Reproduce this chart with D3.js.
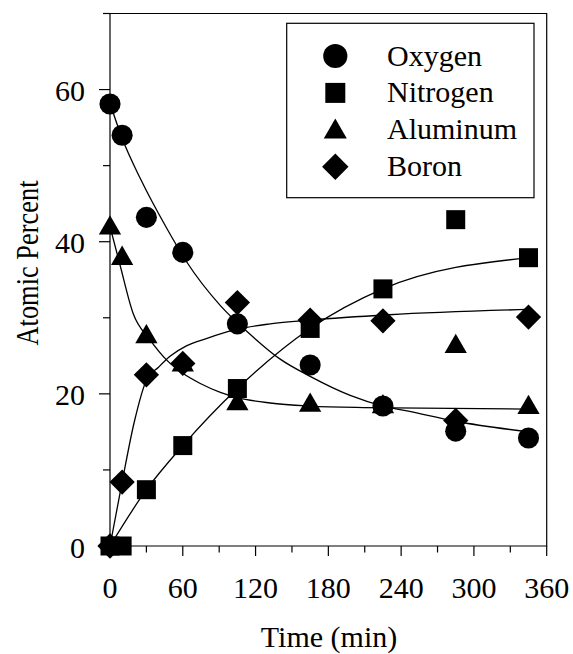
<!DOCTYPE html>
<html>
<head>
<meta charset="utf-8">
<script src="https://cdn.jsdelivr.net/npm/d3@7"></script>
<style>
	body { margin: 0; background: #fff; }
</style>
</head>
<body>
<svg id="chart" width="573" height="654"></svg>
<script>
	// measured points
	const times = [ 0, 10, 30, 60, 105, 165, 225, 285, 345 ];
	const oxygen = [ 58.1, 54.0, 43.2, 38.6, 29.2, 23.8, 18.4, 15.1, 14.2 ];
	const nitrogen = [ 0, 0, 7.4, 13.2, 20.7, 28.6, 33.8, 42.9, 37.9 ];
	const aluminum = [ 41.8, 37.8, 27.5, 23.8, 18.7, 18.5, 18.3, 26.2, 18.2 ];
	const boron = [ 0, 8.4, 22.5, 24.0, 32.0, 29.7, 29.6, 16.5, 30.1 ];

	// fitted curves
	const oxygenFitT = [ 0, 10, 25, 47, 63, 91, 115, 140, 165, 198, 225, 247, 285, 345 ];
	const oxygenFitV = [ 58.2, 53.6, 48.3, 41.7, 37.4, 31.6, 27.9, 24.6, 22.3, 19.8, 18.4, 17.7, 16.4, 15.0 ];
	const nitrogenFitT = [ 0, 30, 60, 105, 165, 225, 345 ];
	const nitrogenFitV = [ 0, 7.4, 13.2, 20.7, 28.6, 33.8, 37.9 ];
	const aluminumFitT = [ 0, 8, 19, 33, 47, 60, 74, 91, 105, 132, 165, 209, 345 ];
	const aluminumFitV = [ 42.0, 37.1, 30.6, 27.1, 24.4, 22.7, 21.4, 20.2, 19.5, 18.8, 18.4, 18.2, 18.0 ];
	const boronFitT = [ 0, 10, 20, 30, 40, 50, 63, 80, 105, 132, 165, 230, 345 ];
	const boronFitV = [ 0, 8.4, 16.3, 21.8, 23.5, 25.0, 26.3, 27.3, 28.5, 29.2, 29.7, 30.4, 31.1 ];

	const seriesNames = [ 'Oxygen', 'Nitrogen', 'Aluminum', 'Boron' ];
	const xTicks = [ 0, 30, 60, 90, 120, 150, 180, 210, 240, 270, 300, 330, 360 ];
	const yTicks = [ 0, 10, 20, 30, 40, 50, 60, 70 ];

	const FONT = '"Liberation Serif", "DejaVu Serif", serif';

	let svg = d3.select( '#chart' ),
		plotLeft = 110, plotRight = 546.7, plotTop = 13.5, plotBottom = 546;

	let x = d3.scaleLinear().domain( [ 0, 360 ] ).range( [ plotLeft, plotRight ] ),
		y = d3.scaleLinear().domain( [ 0, 70 ] ).range( [ plotBottom, plotTop ] );

	// shapes
	let shapes = {
		Oxygen: d3.symbol().type( d3.symbolCircle ).size( 350 ),
		Nitrogen: d3.symbol().type( d3.symbolSquare ).size( 361 ),
		Aluminum: d3.symbol().type( d3.symbolTriangle ).size( 215 ),
		Boron: d3.symbol().type( d3.symbolSquare ).size( 320 )
	};
	let legendShapes = {
		Oxygen: d3.symbol().type( d3.symbolCircle ).size( 460 ),
		Nitrogen: d3.symbol().type( d3.symbolSquare ).size( 400 ),
		Aluminum: d3.symbol().type( d3.symbolTriangle ).size( 230 ),
		Boron: d3.symbol().type( d3.symbolSquare ).size( 350 )
	};
	let rot = name => name === 'Boron' ? ' rotate(45)' : '';

	// frame
	svg.append( 'path' )
		.attr( 'd', 'M' + x( 0 ) + ',' + y( 0 ) + 'V' + y( 70 ) + 'H' + x( 360 ) + 'V' + y( 0 ) + 'Z' )
		.style( 'fill', 'none' ).style( 'stroke', '#000' ).style( 'stroke-width', 1.2 );

	// x ticks
	svg.selectAll( '.xt' ).data( xTicks ).enter().append( 'line' )
		.attr( 'x1', d => x( d ) ).attr( 'x2', d => x( d ) )
		.attr( 'y1', plotBottom ).attr( 'y2', d => plotBottom + ( d % 60 === 0 ? 10 : 6.5 ) )
		.style( 'stroke', '#000' ).style( 'stroke-width', 1.2 );
	svg.selectAll( '.xl' ).data( xTicks.filter( d => d % 60 === 0 ) ).enter().append( 'text' )
		.attr( 'x', d => x( d ) ).attr( 'y', 598 )
		.attr( 'text-anchor', 'middle' )
		.style( 'font-family', FONT ).style( 'font-size', '30px' )
		.text( d => d );

	// y ticks
	svg.selectAll( '.yt' ).data( yTicks ).enter().append( 'line' )
		.attr( 'y1', d => y( d ) ).attr( 'y2', d => y( d ) )
		.attr( 'x1', plotLeft ).attr( 'x2', d => plotLeft - ( d % 20 === 0 ? 11 : 7 ) )
		.style( 'stroke', '#000' ).style( 'stroke-width', 1.2 );
	svg.selectAll( '.yl' ).data( yTicks.filter( d => d % 20 === 0 ) ).enter().append( 'text' )
		.attr( 'x', 85 ).attr( 'y', d => y( d ) + 11.5 )
		.attr( 'text-anchor', 'end' )
		.style( 'font-family', FONT ).style( 'font-size', '30px' )
		.text( d => d );

	// axis titles
	svg.append( 'text' ).attr( 'x', 329 ).attr( 'y', 647 )
		.attr( 'text-anchor', 'middle' )
		.style( 'font-family', FONT ).style( 'font-size', '30px' )
		.text( 'Time (min)' );
	svg.append( 'text' ).attr( 'transform', 'translate(38,263) rotate(-90)' )
		.attr( 'text-anchor', 'middle' )
		.style( 'font-family', FONT ).style( 'font-size', '31px' )
		.attr( 'textLength', 165 ).attr( 'lengthAdjust', 'spacingAndGlyphs' )
		.text( 'Atomic Percent' );

	// fit lines
	let line = d3.line().x( d => x( d[ 0 ] ) ).y( d => y( d[ 1 ] ) ).curve( d3.curveMonotoneX );
	[ [ oxygenFitT, oxygenFitV ], [ nitrogenFitT, nitrogenFitV ],
		[ aluminumFitT, aluminumFitV ], [ boronFitT, boronFitV ] ].forEach( f => {
		svg.append( 'path' )
			.attr( 'd', line( f[ 0 ].map( ( t, i ) => [ t, f[ 1 ][ i ] ] ) ) )
			.style( 'fill', 'none' ).style( 'stroke', '#000' ).style( 'stroke-width', 1.3 );
	} );

	// markers
	let values = { Oxygen: oxygen, Nitrogen: nitrogen, Aluminum: aluminum, Boron: boron };
	seriesNames.forEach( name => {
		svg.append( 'g' ).selectAll( 'path' ).data( times ).enter().append( 'path' )
			.attr( 'd', shapes[ name ]() )
			.attr( 'transform', ( d, i ) => 'translate(' + x( d ) + ',' + y( values[ name ][ i ] ) + ')' + rot( name ) )
			.style( 'fill', '#000' );
	} );

	// legend
	let legend = svg.append( 'g' );
	legend.append( 'rect' )
		.attr( 'x', 286.7 ).attr( 'y', 23.3 ).attr( 'width', 247.3 ).attr( 'height', 174.4 )
		.style( 'fill', '#fff' ).style( 'stroke', '#000' ).style( 'stroke-width', 1.2 );
	seriesNames.forEach( ( name, i ) => {
		let cy = 56 + i * 36.9;
		legend.append( 'path' )
			.attr( 'd', legendShapes[ name ]() )
			.attr( 'transform', 'translate(335.3,' + ( cy + ( name === 'Aluminum' ? 2 : 0 ) ) + ')' + rot( name ) )
			.style( 'fill', '#000' );
		legend.append( 'text' )
			.attr( 'x', 387 ).attr( 'y', cy + 9.5 )
			.style( 'font-family', FONT ).style( 'font-size', '30px' )
			.text( name );
	} );
</script>
</body>
</html>
